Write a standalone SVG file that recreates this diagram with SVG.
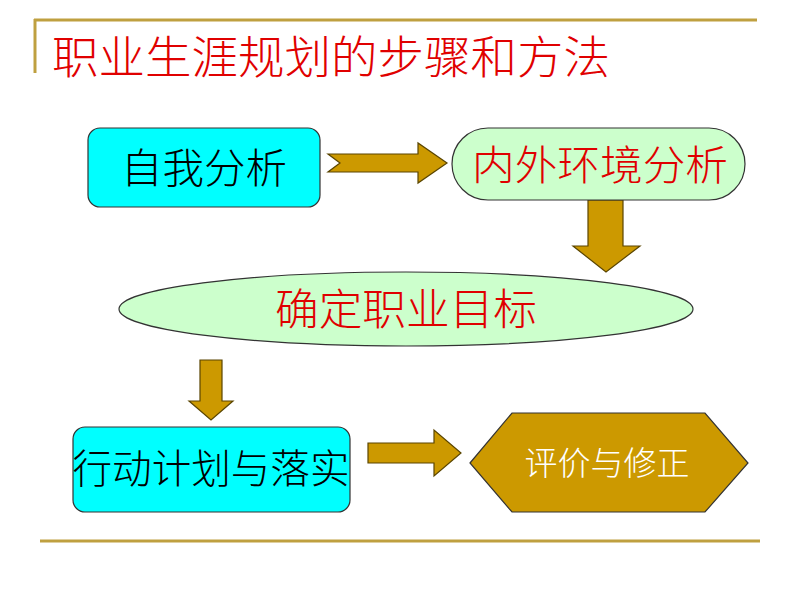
<svg xmlns="http://www.w3.org/2000/svg" width="800" height="600" viewBox="0 0 800 600">
<defs>
<style>
.t{font-family:"Noto Sans CJK SC","Noto Sans",sans-serif;text-anchor:middle;font-weight:300}
.arrow{fill:#CC9900;stroke:#5a4500;stroke-width:1.2;stroke-linejoin:miter}
.rule{stroke:#BFA040;stroke-width:3;fill:none}
</style>
</defs>
<rect width="800" height="600" fill="#ffffff"/>
<line class="rule" x1="34" y1="20" x2="757" y2="20"/>
<line class="rule" x1="35" y1="19" x2="35" y2="73"/>
<line class="rule" x1="40" y1="541" x2="760" y2="541"/>
<text class="t" x="331" y="74" font-size="45" fill="#E00000" textLength="558" lengthAdjust="spacingAndGlyphs">职业生涯规划的步骤和方法</text>

<g id="connectors">
<polygon class="arrow" points="328,154 418,154 418,143 447,163 418,183 418,172 328,172 340,163"/>
<polygon class="arrow" points="588,200 623,200 623,246 640,246 606,272 573,246 588,246"/>
<polygon class="arrow" points="200,360 222,360 222,401 233,401 211,420 189,401 200,401"/>
<polygon class="arrow" points="368,443 434,443 434,430 461,453 434,476 434,463 368,463"/>
</g>

<g id="n1">
<rect x="88" y="128" width="232" height="79" rx="12" fill="#00FFFF" stroke="#333" stroke-width="1.2"/>
<text class="t" x="204" y="183" font-size="41" fill="#000" textLength="166" lengthAdjust="spacingAndGlyphs">自我分析</text>
</g>
<g id="n2">
<rect x="452" y="128" width="293" height="72" rx="36" fill="#CCFFCC" stroke="#333" stroke-width="1.2"/>
<text class="t" x="600" y="180" font-size="41" fill="#E00000" textLength="256" lengthAdjust="spacingAndGlyphs">内外环境分析</text>
</g>
<g id="n3">
<ellipse cx="406" cy="309" rx="287" ry="37" fill="#CCFFCC" stroke="#333" stroke-width="1.2"/>
<text class="t" x="406" y="325" font-size="43" fill="#E00000" textLength="262" lengthAdjust="spacingAndGlyphs">确定职业目标</text>
</g>
<g id="n4">
<rect x="73" y="427" width="277" height="85" rx="12" fill="#00FFFF" stroke="#333" stroke-width="1.2"/>
<text class="t" x="211" y="483" font-size="40" fill="#000" textLength="277" lengthAdjust="spacingAndGlyphs">行动计划与落实</text>
</g>
<g id="n5">
<polygon points="470,463 512,413 705,413 748,463 705,512 512,512" fill="#CC9900" stroke="#333" stroke-width="1.2"/>
<text class="t" x="607" y="475" font-size="33" fill="#ffffff">评价与修正</text>
</g>
</svg>
